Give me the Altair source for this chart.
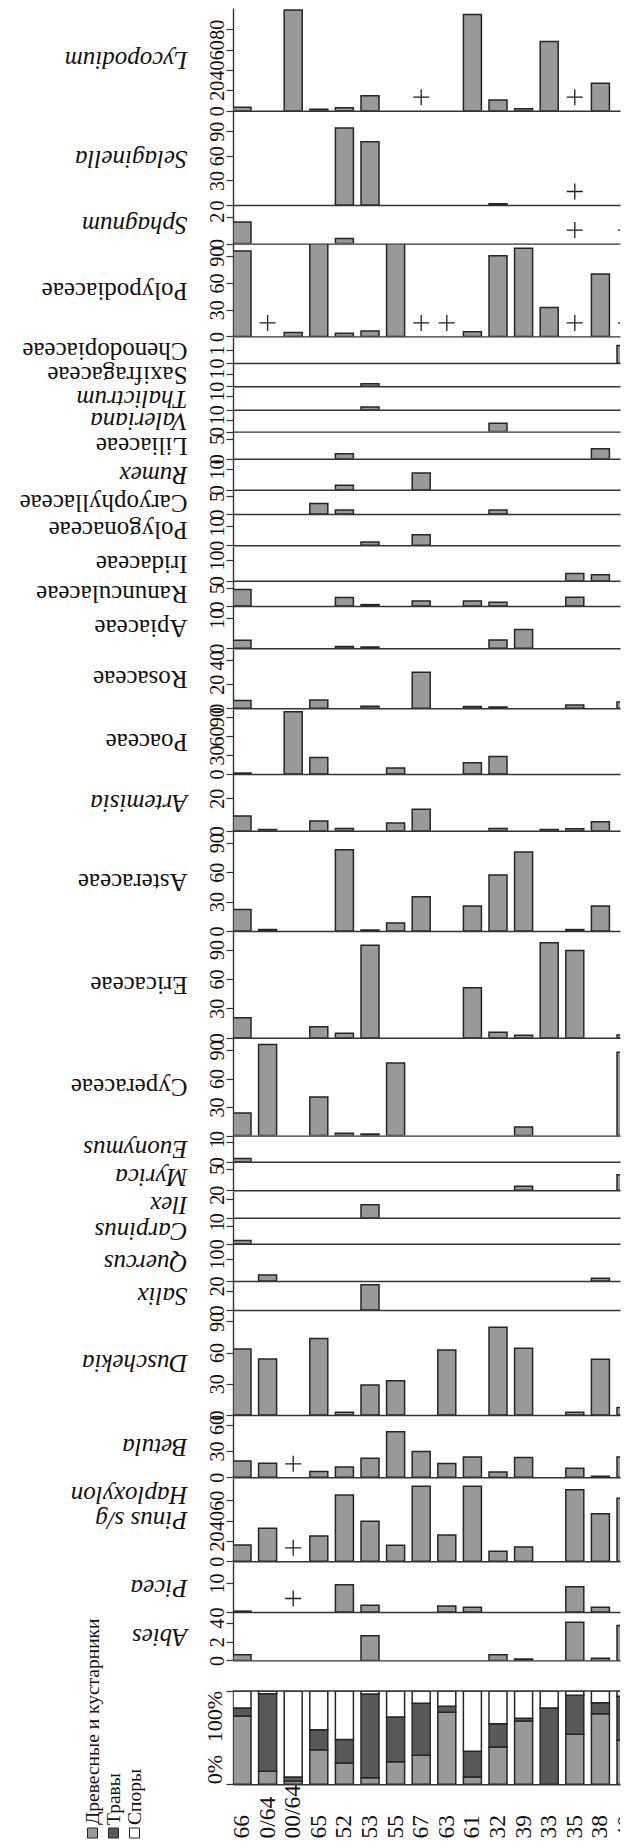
import altair as alt
import pandas as pd

SERIF = "Liberation Serif"
N = None
P = "+"  # trace (+) marker

samples = ["66", "0/64", "00/64", "65", "52", "53", "55", "67", "63", "61", "32", "39", "33", "35", "38", "40"]

lycopodium      = [3.3, N, 99, 1.5, 3, 14.8, N, P, N, 94.5, 10.5, 2, 68, P, 27, N]
selaginella     = [N, N, N, N, 94, 77, N, N, N, N, 1.5, N, N, P, N, N]
sphagnum        = [1.64, N, N, N, 0.38, N, N, N, N, N, N, N, N, P, N, P]
polypodiaceae   = [96, P, 4.5, 104, 3.4, 6, 104, P, P, 5.3, 90.6, 99, 32.6, P, 70, P]
chenopodiaceae  = [N, N, N, N, N, N, N, N, N, N, N, N, N, N, N, 1.34]
saxifragaceae   = [N, N, N, N, N, 0.21, N, N, N, N, N, N, N, N, N, N]
thalictrum      = [N, N, N, N, N, 0.2, N, N, N, N, N, N, N, N, N, N]
valeriana       = [N, N, N, N, N, N, N, N, N, N, 0.69, N, N, N, N, N]
liliaceae       = [N, N, N, N, 1.3, N, N, N, N, N, N, N, N, N, 2.6, N]
rumex           = [N, N, N, N, 2.1, N, N, 8, N, N, N, N, N, N, N, N]
caryophyllaceae = [N, N, N, 3, 1.1, N, N, N, N, N, 1.1, N, N, N, N, N]
polygonaceae    = [N, N, N, N, N, 1.7, N, 5.5, N, N, N, N, N, N, N, N]
iridaceae       = [N, N, N, N, N, N, N, N, N, N, N, N, N, 3.5, 2.9, N]
ranunculaceae   = [4.7, N, N, N, 2.4, 0.4, N, 1.4, N, 1.4, 1.1, N, N, 2.5, N, N]
apiaceae        = [2.7, N, N, N, 0.6, 0.4, N, N, N, N, 2.8, 6.3, N, N, N, N]
rosaceae        = [6.4, N, N, 6.9, N, 1.7, N, 30, N, 1.5, 1, N, N, 2.8, N, 5.3]
poaceae         = [1.5, N, 98, 26, N, N, 9.4, N, N, 17.8, 27.7, N, N, N, N, N]
artemisia       = [9.1, 0.8, N, 6, 1.4, N, 4.8, 13.2, N, N, 1.4, N, 0.8, 1.2, 5.6, N]
asteraceae      = [22, 1.5, N, N, 83, 1, 8.2, 35, N, 25.5, 57, 80.6, N, 1.5, 25.5, N]
ericaceae       = [20.4, N, N, 11.2, 4.5, 94.3, N, N, N, 51, 5.5, 2.4, 97, 89, N, 2.7]
cyperaceae      = [23.8, 95.8, N, 40.6, 2.4, 1.6, 76.5, N, N, N, N, 9, N, N, N, 87.7]
euonymus        = [0.16, N, N, N, N, N, N, N, N, N, N, N, N, N, N, N]
myrica          = [N, N, N, N, N, N, N, N, N, N, N, 0.95, N, N, N, 3.7]
ilex            = [N, N, N, N, N, 1.4, N, N, N, N, N, N, N, N, N, N]
carpinus        = [0.18, N, N, N, N, N, N, N, N, N, N, N, N, N, N, N]
quercus         = [N, 2.7, N, N, N, N, N, N, N, N, N, N, N, N, 1.2, N]
salix           = [N, N, N, N, N, 2.6, N, N, N, N, N, N, N, N, N, N]
duschekia       = [63.5, 53.8, N, 73.5, 2.6, 28.8, 33, N, 62.5, N, 84.3, 64.1, N, 2.6, 53.6, 7.1]
betula          = [18.5, 15.9, P, 6.5, 11.7, 21.6, 51.9, 29.2, 15.6, 23.1, 6, 22.4, N, 10.2, 1.3, 23.1]
pinus           = [16, 32.4, P, 24.8, 65, 39.2, 15.7, 73.5, 25.8, 73.5, 9.8, 14, N, 70.2, 46.7, 61.8]
picea           = [0.3, N, P, N, 9.4, 2.3, N, N, 2.1, 1.6, N, N, N, 8.7, 1.6, N]
abies           = [0.61, N, N, N, N, 2.66, N, N, N, N, 0.61, 0.15, N, 4.1, 0.22, 3.76]

groups = ["Древесные и кустарники", "Травы", "Споры"]
trees  = [73.2, 13.9, 3.2, 37.1, 22.9, 7.1, 24.3, 31.1, 77.1, 7.9, 40.0, 67.9, 0.0, 53.6, 75.7, 47.1]
herbs  = [8.6, 83.2, 4.7, 21.5, 25.0, 89.7, 47.8, 55.7, 6.5, 27.5, 25.0, 2.8, 81.8, 41.8, 11.8, 47.2]
spores = [18.2, 2.9, 92.1, 41.4, 52.1, 3.2, 27.9, 13.2, 16.4, 64.6, 35.0, 29.3, 18.2, 4.6, 12.5, 5.7]

# panel specs: title, values, italic, axis max, tick values, panel height (px)
panels = [
    ("Lycopodium", lycopodium, True, 101, [0, 20, 40, 60, 80], 102.7),
    ("Selaginella", selaginella, True, 114.6, [0, 30, 60, 90], 94),
    ("Sphagnum", sphagnum, True, 2.93, [0, 2], 38.6),
    ("Polypodiaceae", polypodiaceae, False, 103.8, [0, 30, 60, 90], 92.4),
    ("Chenodopiaceae", chenopodiaceae, False, 2.0, [0, 1], 26),
    ("Saxifragaceae", saxifragaceae, False, 1.83, [0, 1], 23.3),
    ("Thalictrum", thalictrum, True, 1.66, [0, 1], 22.7),
    ("Valeriana", valeriana, True, 1.8, [0, 1], 21.6),
    ("Liliaceae", liliaceae, False, 6.9, [0, 5], 26.7),
    ("Rumex", rumex, True, 14.8, [0, 10], 30.7),
    ("Caryophyllaceae", caryophyllaceae, False, 6.8, [0, 5], 24),
    ("Polygonaceae", polygonaceae, False, 16.2, [0, 10], 31.3),
    ("Iridaceae", iridaceae, False, 16.8, [0, 10], 34.7),
    ("Ranunculaceae", ranunculaceae, False, 7.1, [0, 5], 25),
    ("Apiaceae", apiaceae, False, 14.1, [0, 10], 42.3),
    ("Rosaceae", rosaceae, False, 49.4, [0, 20, 40], 59.3),
    ("Poaceae", poaceae, False, 102.4, [0, 30, 60, 90], 65),
    ("Artemisia", artemisia, True, 35, [0, 20], 56.7),
    ("Asteraceae", asteraceae, False, 102, [0, 30, 60, 90], 100),
    ("Ericaceae", ericaceae, False, 108.9, [0, 30, 60, 90], 106.7),
    ("Cyperaceae", cyperaceae, False, 102.7, [0, 30, 60, 90], 97.6),
    ("Euonymus", euonymus, True, 1.33, [0, 1], 25.7),
    ("Myrica", myrica, True, 6.7, [0, 5], 28.3),
    ("Ilex", ilex, True, 2.9, [0, 2], 26.7),
    ("Carpinus", carpinus, True, 1.43, [0, 1], 25.7),
    ("Quercus", quercus, True, 16.8, [0, 10], 37),
    ("Salix", salix, True, 3.0, [0, 2], 29),
    ("Duschekia", duschekia, True, 101, [0, 30, 60, 90], 105),
    ("Betula", betula, True, 70.8, [0, 30, 60], 62.3),
    (["Pinus s/g", "Haploxylon"], pinus, True, 81.7, [0, 20, 40, 60], 83.3),
    ("Picea", picea, True, 17.2, [0, 10], 50),
    ("Abies", abies, True, 5.2, [0, 2, 4], 48.4),
]

# layout / style
STEP = 25.6
BAR = 0.703
W = 387
XMAX = W / STEP
LEFT = 224.5
TITLE_X = -46
GAP_H = 30
SUM_H = 93.3
LAB_H = 54
BAR_FILL = "#999999"
DARK = "#595959"
LINE = "#262626"
CROSS = "M-1,0L1,0M0,-1L0,1"
LEG_X = [-140.5, -119.5, -98.5]
LEG_FILL = [BAR_FILL, DARK, "#ffffff"]

xscale = alt.Scale(domain=[0, XMAX], nice=False, zero=False)
xaxis = alt.Axis(labels=False, ticks=False, title=None, grid=False, domain=True)


def taxon_panel(name, vals, italic, dmax, ticks, h):
    rows = []
    for k, v in enumerate(vals):
        if v is None:
            continue
        if isinstance(v, str):
            rows.append({"i": k, "i2": k + BAR, "v": 0.0, "z": 0.0, "kind": "trace"})
        else:
            rows.append({"i": k, "i2": k + BAR, "v": float(v), "z": 0.0, "kind": "bar"})
    df = pd.DataFrame(rows, columns=["i", "i2", "v", "z", "kind"])
    yaxis = alt.Axis(
        values=ticks, format="d", labelAngle=270, labelAlign="center", labelBaseline="alphabetic",
        labelPadding=3, labelOverlap=False, labelFlush=False,
        title=name, titleAngle=180, titleAlign="left", titleBaseline="middle",
        titleX=TITLE_X, titleY=h / 2, titleLineHeight=25,
        titleFontStyle="italic" if italic else "normal",
    )
    yscale = alt.Scale(domain=[0, dmax], nice=False, zero=True)
    base = alt.Chart(df).encode(
        x=alt.X("i:Q", scale=xscale, axis=xaxis),
        y=alt.Y("v:Q", scale=yscale, axis=yaxis),
    )
    layers = [
        base.transform_filter("datum.kind == 'bar'").mark_bar(
            clip=True, fill=BAR_FILL, stroke=LINE, strokeWidth=1.5
        ).encode(x2="i2:Q", y2="z:Q")
    ]
    if any(isinstance(v, str) for v in vals):
        layers.append(
            base.transform_filter("datum.kind == 'trace'").mark_point(
                shape=CROSS, size=256, filled=False, stroke="#1e1e1e", strokeWidth=1.3,
                opacity=1, xOffset=9, yOffset=-13.5, clip=True
            )
        )
    return alt.layer(*layers).properties(width=W, height=h)


charts = [taxon_panel(*p) for p in panels]

# spacer between Abies and summary
spacer = alt.Chart(pd.DataFrame({"a": [0]})).mark_point(opacity=0).encode(
    x=alt.X("a:Q", axis=None), y=alt.Y("a:Q", axis=None)
).properties(width=W, height=GAP_H)
charts.append(spacer)

# summary stacked panel
srows = []
for k in range(len(samples)):
    c = 0.0
    for g, arr in zip(groups, [trees, herbs, spores]):
        srows.append({"i": k, "i2": k + BAR, "g": g, "y0": c, "y1": c + arr[k]})
        c += arr[k]
sdf = pd.DataFrame(srows)
sscale = alt.Scale(domain=[0, 100], nice=False)
saxis = alt.Axis(values=[0, 100], labels=False, title=None, grid=False)

sbars = alt.Chart(sdf).mark_bar(clip=True, stroke=LINE, strokeWidth=1.5).encode(
    x=alt.X("i:Q", scale=xscale, axis=xaxis),
    x2="i2:Q",
    y=alt.Y("y0:Q", scale=sscale, axis=saxis),
    y2="y1:Q",
    color=alt.Color("g:N", scale=alt.Scale(domain=groups, range=LEG_FILL), legend=None),
)
top_rule = alt.Chart(pd.DataFrame({"v": [100]})).mark_rule(color="#333333", strokeWidth=1.4).encode(
    y=alt.Y("v:Q", scale=sscale, axis=saxis)
)
pct0 = alt.Chart(pd.DataFrame({"v": [0], "t": ["0%"]})).mark_text(
    angle=270, align="left", baseline="alphabetic", font=SERIF, fontSize=22, color="#111111"
).encode(y=alt.Y("v:Q", scale=sscale, axis=saxis), x=alt.value(-11), text="t:N")
pct100 = alt.Chart(pd.DataFrame({"v": [100], "t": ["100%"]})).mark_text(
    angle=270, align="right", baseline="alphabetic", font=SERIF, fontSize=22, color="#111111"
).encode(y=alt.Y("v:Q", scale=sscale, axis=saxis), x=alt.value(-11), text="t:N")
summary = alt.layer(sbars, top_rule, pct0, pct100).properties(width=W, height=SUM_H)
charts.append(summary)

# sample labels + legend panel
lab_df = pd.DataFrame({"i": list(range(len(samples))), "s": samples, "z": [0] * len(samples)})
lab_text = alt.Chart(lab_df).mark_text(
    angle=270, align="left", baseline="middle", font=SERIF, fontSize=23.5, color="#111111",
    clip=True, xOffset=9, dx=0.5
).encode(
    x=alt.X("i:Q", scale=xscale, axis=None),
    y=alt.Y("z:Q", scale=alt.Scale(domain=[0, 1]), axis=None),
    text="s:N",
)
lab_layers = [lab_text]
for k, g in enumerate(groups):
    gdf = pd.DataFrame({"g": [g]})
    lab_layers.append(
        alt.Chart(gdf).mark_square(size=100, fill=LEG_FILL[k], stroke=LINE, strokeWidth=1, opacity=1).encode(
            x=alt.value(LEG_X[k]), y=alt.value(LAB_H - 6)
        )
    )
    lab_layers.append(
        alt.Chart(gdf).mark_text(
            angle=270, align="left", baseline="middle", font=SERIF, fontSize=19.5, color="#111111"
        ).encode(x=alt.value(LEG_X[k]), y=alt.value(LAB_H - 14), text="g:N")
    )
# invisible rule pinning the left extent so the axis sits where the reference has it
lab_layers.append(
    alt.Chart(pd.DataFrame({"a": [0]})).mark_rule(strokeOpacity=0, strokeWidth=1).encode(
        x=alt.value(-LEFT), x2=alt.value(-LEFT + 2), y=alt.value(1)
    )
)
labels = alt.layer(*lab_layers).properties(width=W, height=LAB_H)
charts.append(labels)

chart = alt.vconcat(
    *charts, spacing=0, bounds="flush",
    padding={"left": 0, "right": 0, "top": 0, "bottom": 0},
).configure_view(stroke=None).configure_axis(
    domainColor="#333333", domainWidth=1.4, tickColor="#333333", tickWidth=1.2, tickSize=7,
    labelFont=SERIF, labelFontSize=20, labelColor="#111111", grid=False,
    titleFont=SERIF, titleFontSize=25, titleColor="#111111", titleFontWeight="normal",
)

chart.save("out.html", embed_options={"renderer": "svg", "actions": False})
